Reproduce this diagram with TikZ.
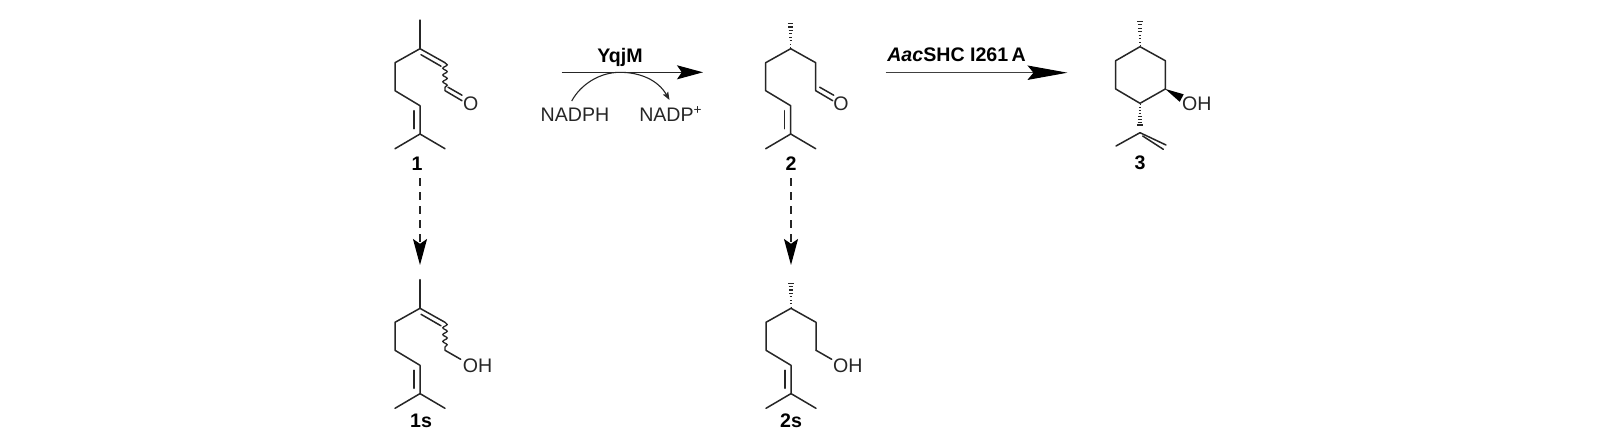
\documentclass[tikz,border=0pt]{standalone}
\usepackage{fontspec}
\setmainfont{Liberation Sans}
\usetikzlibrary{arrows.meta,calc,decorations.pathmorphing}
\tikzset{
  bond/.style={line width=0.75pt,line cap=round,line join=round,draw=black!85},
  wavy/.style={line width=0.65pt,draw=black!85,decorate,decoration={snake,amplitude=1.1pt,segment length=3.4pt}},
  atom/.style={inner sep=0pt,outer sep=0pt,anchor=base,font=\fontsize{9.8}{12}\selectfont,text=black!85},
  lab/.style={inner sep=0pt,outer sep=0pt,anchor=base,font=\fontsize{9.8}{12}\selectfont\bfseries,text=black},
  rxn/.style={line width=0.6pt,draw=black!85,-{Stealth[length=13pt,width=7pt,inset=2.4pt,color=black]}},
  rxnlong/.style={line width=0.5pt,draw=black!75,-{Stealth[length=20pt,width=7.2pt,inset=3pt,color=black]}},
  rxndash/.style={rxn,dash pattern=on 4pt off 3pt},
  curl/.style={line width=0.55pt,draw=black!85},
}
% hashed bond: from narrow end #1 to wide end #2
\newcommand{\hashbond}[2]{%
  \foreach \t in {0.04,0.16,...,1.0}{%
    \pgfmathsetmacro{\hw}{0.25+2.8*\t}%
    \draw[line width=0.55pt,draw=black!85] ($(#1)!\t!(#2)+(-\hw,0)$) -- ($(#1)!\t!(#2)+(\hw,0)$);
  }%
}
% common tail of the chain, top carbon at (#2,#3)
\newcommand{\tail}[3]{%
  \begin{scope}[shift={(#2,#3)}]
    \coordinate (#1top) at (0,-28.6);
    \coordinate (#1c) at (0,0);
    \coordinate (#1a) at (-25,14);
    \coordinate (#1b) at (-25,42);
    \coordinate (#1d) at (0,57);
    \coordinate (#1e) at (0,85.3);
    \coordinate (#1m) at (-25,100);
    \coordinate (#1n) at (25,100);
    \coordinate (#1p) at (25,14);
    \coordinate (#1q) at (25,42);
    \coordinate (#1di) at (-6,62);
    \coordinate (#1dj) at (-6,80);
    \draw[bond] (#1c) -- (#1a) -- (#1b) -- (#1d) -- (#1e) -- (#1m);
    \draw[bond] (#1e) -- (#1n);
    \draw[bond] (#1di) -- (#1dj);
  \end{scope}%
}
\begin{document}
\begin{tikzpicture}[x=0.5pt,y=-0.5pt]
\useasboundingbox (0,0) rectangle (1597,445);
\fill[white] (0,0) rectangle (1597,445);

% compound 1
\tail{A}{420}{48.7}
\draw[bond] (Atop) -- (Ac);
\draw[bond] (Ac) -- (Ap);
\draw[bond] ($(Ac)+(1,6)$) -- ($(Ap)+(-4,3.5)$);
\draw[wavy] (Ap) -- (Aq);
\node[atom] (AO) at (470.7,110) {O};
\draw[bond] (Aq) -- ($(Aq)+(17,10)$);
\draw[bond] ($(Aq)+(3,-3.5)$) -- ($(Aq)+(17,4.5)$);
\node[lab] (Al) at (417,170) {1};

% compound 2
\tail{B}{790.7}{48.7}
\hashbond{Bc}{Btop}
\draw[bond] (Bc) -- (Bp) -- (Bq);
\node[atom] (BO) at (841,110) {O};
\draw[bond] (Bq) -- ($(Bq)+(17,10)$);
\draw[bond] ($(Bq)+(4,-3.5)$) -- ($(Bq)+(18,4.5)$);
\node[lab] (Bl) at (791,170) {2};

% compound 1s
\tail{C}{420}{308.3}
\draw[bond] (Ctop) -- (Cc);
\draw[bond] (Cc) -- (Cp);
\draw[bond] ($(Cc)+(1,6)$) -- ($(Cp)+(-4,3.5)$);
\draw[wavy] (Cp) -- (Cq);
\node[atom] (CO) at (477.5,372) {OH};
\draw[bond] (Cq) -- ($(Cq)+(15.7,9)$);
\node[lab] (Cl) at (421,427.7) {1s};

% compound 2s
\tail{D}{791}{308.3}
\hashbond{Dc}{Dtop}
\draw[bond] (Dc) -- (Dp) -- (Dq);
\node[atom] (DO) at (847.8,372) {OH};
\draw[bond] (Dq) -- ($(Dq)+(15.7,9)$);
\node[lab] (Dl) at (791,427.7) {2s};

% compound 3
\coordinate (r1) at (1140,46.7);
\coordinate (r2) at (1165.3,60.7);
\coordinate (r3) at (1165.3,89);
\coordinate (r4) at (1140,103.3);
\coordinate (r5) at (1115.7,89);
\coordinate (r6) at (1115.7,60.7);
\coordinate (rtop) at (1140,18);
\coordinate (rw) at (1181.7,98.3);
\coordinate (rh) at (1140,128);
\coordinate (ri) at (1140,132.7);
\coordinate (rm) at (1116,146);
\coordinate (rn) at (1166,145);
\draw[bond] (r1) -- (r2) -- (r3) -- (r4) -- (r5) -- (r6) -- cycle;
\hashbond{r1}{rtop}
\hashbond{r4}{rh}
\draw[bond] (ri) -- (rm);
\draw[bond] (ri) -- (rn);
\draw[bond] ($(ri)+(2.7,3.3)$) -- ($(rn)+(-2.7,4.3)$);
\fill[black] (r3) -- ($(rw)+(2,-4)$) -- ($(rw)+(-2,3.5)$) -- cycle;
\node[atom] (EO) at (1196.7,110.3) {OH};
\node[lab] (El) at (1140,169) {3};

% reactions
\coordinate (y1) at (561.7,72.3);
\coordinate (y2) at (703,72.3);
\draw[rxn] (y1) -- (y2);
\node[lab] (ylab) at (620,62.3) {YqjM};
\node[atom] (nadph) at (575,121.7) {NADPH};
\node[atom] (nadp) at (671,121.7) {NADP\textsuperscript{+}};
\coordinate (c0) at (571.7,101);
\coordinate (c1) at (620,72.3);
\coordinate (c2) at (669.5,100);
\draw[curl] (c0) .. controls (581,84) and (600,72.3) .. (c1);
\draw[curl,-{Stealth[length=4pt,width=3pt,inset=0.8pt]}] (c1) .. controls (640,72.3) and (658,80) .. (c2);

\coordinate (z1) at (885.7,72.7);
\coordinate (z2) at (1067.5,72.7);
\draw[rxnlong] (z1) -- (z2);
\node[lab] (zlab) at (956.5,61) {\textit{Aac}SHC I261\,A};

\coordinate (d1) at (420,178);
\coordinate (d2) at (420,265);
\draw[rxndash] (d1) -- (d2);
\coordinate (e1) at (791,178);
\coordinate (e2) at (791,265);
\draw[rxndash] (e1) -- (e2);
\end{tikzpicture}
\end{document}
